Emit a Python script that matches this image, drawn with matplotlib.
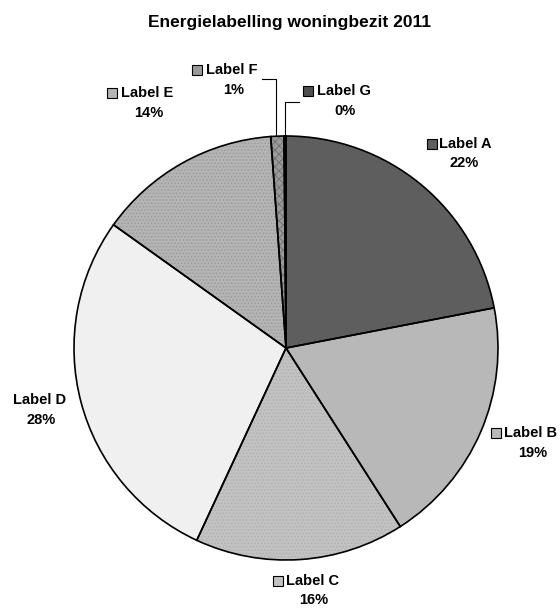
import matplotlib.pyplot as plt

plt.rcParams['font.family'] = ['Liberation Sans', 'DejaVu Sans']

# Data
labels = ['Label A', 'Label B', 'Label C', 'Label D', 'Label E', 'Label F', 'Label G']
shares = [22, 19, 16, 28, 14, 1, 0.15]
pct_text = ['22%', '19%', '16%', '28%', '14%', '1%', '0%']
colors = ['#5e5e5e', '#b8b8b8', '#c2c2c2', '#f0f0f0', '#b4b4b4', '#9a9a9a', '#4e4e4e']
hatches = [None, None, '.....', None, '.....', 'xxxx', None]
hatch_cols = ['#5e5e5e', '#b8b8b8', '#b0b0b0', '#f0f0f0', '#9a9a9a', '#707070', '#4e4e4e']

W, H = 560, 608
fig = plt.figure(figsize=(5.6, 6.08), dpi=100)
ax = fig.add_axes([0, 0, 1, 1])

cx, cy, r = 286, H - 348, 212

# fill pass (with hatching in grey), then black outline pass
plt.rcParams['hatch.linewidth'] = 0.6
wedges, _ = ax.pie(shares, colors=colors, startangle=90, counterclock=False,
                   center=(cx, cy), radius=r, wedgeprops=dict(linewidth=0))
for w, h, hc in zip(wedges, hatches, hatch_cols):
    if h:
        w.set_hatch(h)
        w.set_edgecolor(hc)
ax.pie(shares, colors=['none'] * len(shares), startangle=90, counterclock=False,
       center=(cx, cy), radius=r, wedgeprops=dict(linewidth=1.2, edgecolor='black'))

ax.set_xlim(0, W)
ax.set_ylim(0, H)
ax.set_aspect('equal')
ax.axis('off')

ax.text(290, H - 23, 'Energielabelling woningbezit 2011', ha='center', va='center',
        fontsize=12.5, fontweight='bold')

# label layout: (box x, text x, label y, pct x, pct y) in pixels
layout = {
    'Label A': (432, 439, 144, 464, 163),
    'Label B': (496, 504, 433, 533, 453),
    'Label C': (278, 286, 581, 314, 600),
    'Label D': (None, 13, 400, 41, 420),
    'Label E': (112, 121, 93, 149, 113),
    'Label F': (197, 206, 70, 234, 90),
    'Label G': (308, 317, 91, 345, 111),
}
for lab, pct, col in zip(labels, pct_text, colors):
    bx, tx, ly, px, py = layout[lab]
    if bx is not None:
        ax.plot(bx, H - ly, marker='s', markersize=7, markerfacecolor=col,
                markeredgecolor='black', markeredgewidth=0.8, linestyle='none')
    ax.text(tx, H - ly, lab, ha='left', va='center', fontsize=10.5, fontweight='bold')
    ax.text(px, H - py, pct, ha='center', va='center', fontsize=10.5, fontweight='bold')

# leader lines for the small slices
ax.plot([262, 276, 276], [H - 79, H - 79, H - 136], color='black', linewidth=0.8)
ax.plot([299, 285, 285], [H - 102, H - 102, H - 136], color='black', linewidth=0.8)

fig.savefig('out.png', dpi=100, facecolor='white')
